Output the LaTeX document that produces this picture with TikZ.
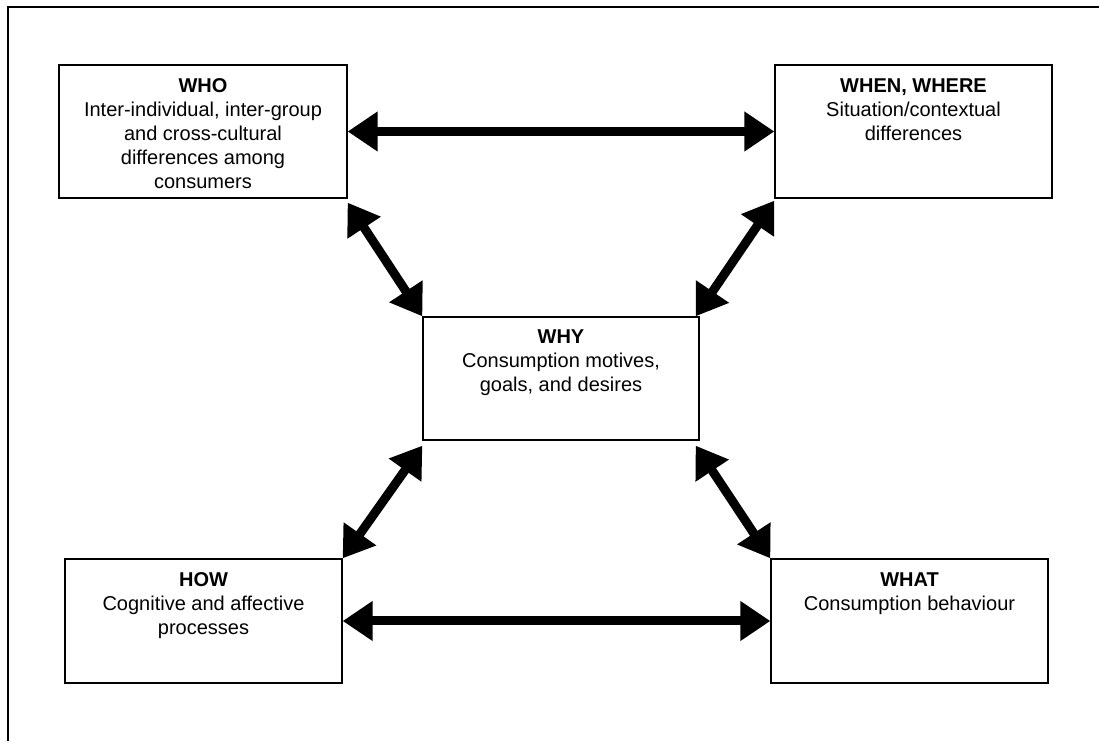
\documentclass[tikz,border=0pt]{standalone}
\usepackage{fontspec}
\setmainfont{Liberation Sans}
\usepackage{tikz}
\usetikzlibrary{arrows.meta,positioning}
\tikzset{
  qbox/.style  = {rectangle, draw=black, line width=1.3pt, fill=white, inner sep=0pt},
  qtext/.style = {align=center, inner sep=0pt, font=\fontsize{20}{24}\selectfont},
  qflow/.style = {{Triangle[length=30pt,width=38pt]}-{Triangle[length=30pt,width=38pt]},
                  line width=9pt, draw=black},
}

\begin{document}
\begin{tikzpicture}[x=1pt,y=1pt]
  \useasboundingbox (0,0) rectangle (1099,741);
  % open frame: only the top and left sides show
  \draw[line width=2pt] (8,0) -- (8,734) -- (1099,734);

  \node[qbox, minimum width=288pt, minimum height=133pt] (who)  at (203,609.5)   {};
  \node[qbox, minimum width=277pt, minimum height=133pt] (when) at (913.5,609.5) {};
  \node[qbox, minimum width=276pt, minimum height=123pt] (why)  at (561,362.5)   {};
  \node[qbox, minimum width=277pt, minimum height=124pt] (how)  at (203.5,120)   {};
  \node[qbox, minimum width=277pt, minimum height=124pt] (what) at (909.5,120)   {};

  \node[qtext, below=14pt of who.north]  (whotxt)  {\textbf{WHO}\\Inter-individual, inter-group\\and cross-cultural\\differences among\\consumers};
  \node[qtext, below=14pt of when.north] (whentxt) {\textbf{WHEN, WHERE}\\Situation/contextual\\differences};
  \node[qtext, below=13pt of why.north]  (whytxt)  {\textbf{WHY}\\Consumption motives,\\goals, and desires};
  \node[qtext, below=14pt of how.north]  (howtxt)  {\textbf{HOW}\\Cognitive and affective\\processes};
  \node[qtext, below=14pt of what.north] (whattxt) {\textbf{WHAT}\\Consumption behaviour};

  \draw[qflow] (who.east) -- (when.west);
  \draw[qflow] (how.east) -- (what.west);
  \draw[qflow] ([yshift=-4pt]who.south east) -- (why.north west);
  \draw[qflow] ([yshift=-2pt]when.south west) -- ([xshift=-4pt]why.north east);
  \draw[qflow] ([yshift=-5pt]why.south west) -- (how.north east);
  \draw[qflow] ([xshift=-4pt,yshift=-5pt]why.south east) -- (what.north west);
\end{tikzpicture}
\end{document}
